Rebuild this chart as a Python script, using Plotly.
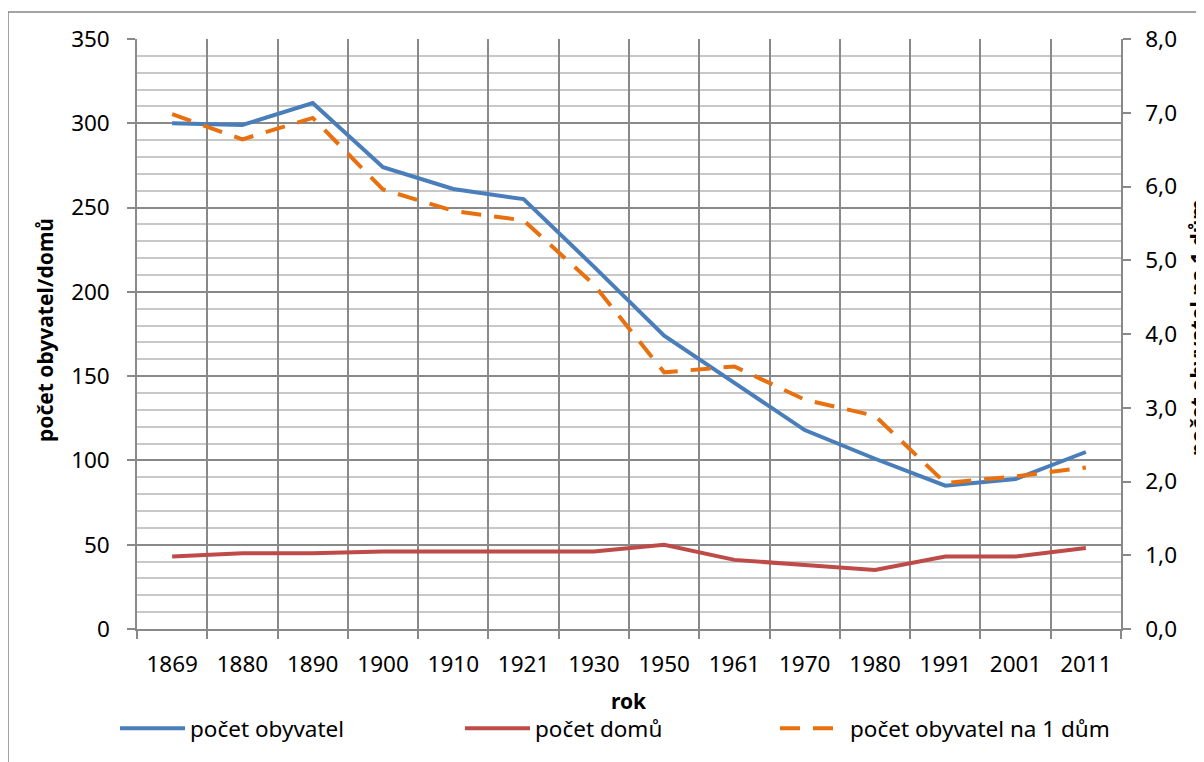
import plotly.graph_objects as go

years = ["1869", "1880", "1890", "1900", "1910", "1921", "1930",
         "1950", "1961", "1970", "1980", "1991", "2001", "2011"]
obyvatel = [300, 299, 312, 274, 261, 255, 215, 174, 146, 118, 101, 85, 89, 105]
domu = [43, 45, 45, 46, 46, 46, 46, 50, 41, 38, 35, 43, 43, 48]
na_dum = [6.98, 6.64, 6.93, 5.96, 5.67, 5.54, 4.67, 3.48, 3.56, 3.11, 2.89, 1.98, 2.07, 2.19]

name_obyv = "počet obyvatel"
name_domu = "počet domů"
name_ratio = "počet obyvatel na 1 dům"
y_title = "počet obyvatel/domů"
y2_title = "počet obyvatel na 1 dům"
x_title = "rok"

# page offset (body margin) -> work in page pixels, convert to figure
OFF = 8
W, H = 1196, 754
PL, PR, PT, PB = 137, 1121, 39, 631          # plot area in page pixels
L, T = PL - OFF, PT - OFF
R = W - (PR - OFF)
B = H - (PB - OFF)
pw, ph = W - L - R, H - T - B

def px(x):   # page x -> paper
    return (x - OFF - L) / pw

def py(y):   # page y -> paper
    return (H - B - (y - OFF)) / ph

FONT = "Noto Sans"
MAJOR = "#898989"
MINOR = "#c8c8c8"
FS = 22.5

fig = go.Figure()
fig.add_trace(go.Scatter(x=years, y=obyvatel, name=name_obyv, mode="lines", legend="legend",
                         line=dict(color="#4A7EBB", width=4)))
fig.add_trace(go.Scatter(x=years, y=domu, name=name_domu, mode="lines", legend="legend2",
                         line=dict(color="#BE4B48", width=4)))
fig.add_trace(go.Scatter(x=years, y=na_dum, name=name_ratio, mode="lines", yaxis="y2",
                         legend="legend3",
                         line=dict(color="#E8700F", width=4, dash="20px,13px")))

def leg(xpage):
    return dict(orientation="h", x=px(xpage), y=py(731), xanchor="left", yanchor="middle",
                font=dict(size=22.5), itemwidth=65, bgcolor="rgba(0,0,0,0)")

fig.update_layout(
    width=W, height=H,
    margin=dict(l=L, r=R, t=T, b=B),
    paper_bgcolor="white", plot_bgcolor="white",
    separators=", ",
    font=dict(family=FONT, size=FS, color="#000000"),
    showlegend=True,
    legend=leg(115), legend2=leg(460), legend3=leg(775),
    xaxis=dict(type="category", tickson="boundaries", showgrid=True, gridcolor=MAJOR, gridwidth=1.5,
               showline=True, linecolor=MAJOR, linewidth=1.5,
               ticks="outside", ticklen=8, tickcolor=MAJOR, tickwidth=1.5,
               ticklabelstandoff=14, tickfont=dict(size=FS),
               range=[-0.5, 13.5]),
    yaxis=dict(range=[0, 350], dtick=50, showgrid=True, gridcolor=MAJOR, gridwidth=1.5,
               minor=dict(dtick=10, showgrid=True, gridcolor=MINOR, gridwidth=1.5),
               showline=True, linecolor=MAJOR, linewidth=1.5, zeroline=False,
               ticks="outside", ticklen=8, tickcolor=MAJOR, tickwidth=1.5,
               ticklabelstandoff=13, tickfont=dict(size=FS)),
    yaxis2=dict(range=[0, 8], dtick=1, overlaying="y", side="right", showgrid=False,
                showline=True, linecolor=MAJOR, linewidth=1.5, zeroline=False,
                ticks="outside", ticklen=8, tickcolor=MAJOR, tickwidth=1.5,
                tickformat=".1f", ticklabelstandoff=10, tickfont=dict(size=FS)),
    shapes=[dict(type="rect", xref="paper", yref="paper",
                 x0=px(8), x1=px(1220), y0=py(780), y1=py(12),
                 line=dict(color="#868686", width=1.5), layer="below")],
    annotations=[
        dict(text="<b>" + y_title + "</b>", xref="paper", yref="paper",
             x=px(45), y=py(331), textangle=-90, showarrow=False,
             font=dict(size=21), xanchor="center", yanchor="middle"),
        dict(text="<b>" + y2_title + "</b>", xref="paper", yref="paper",
             x=px(1198), y=py(329), textangle=-90, showarrow=False,
             font=dict(size=21), xanchor="center", yanchor="middle"),
        dict(text="<b>" + x_title + "</b>", xref="paper", yref="paper",
             x=px(629), y=py(703), showarrow=False,
             font=dict(size=21), xanchor="center", yanchor="middle"),
    ],
)

fig.write_html("out.html")
